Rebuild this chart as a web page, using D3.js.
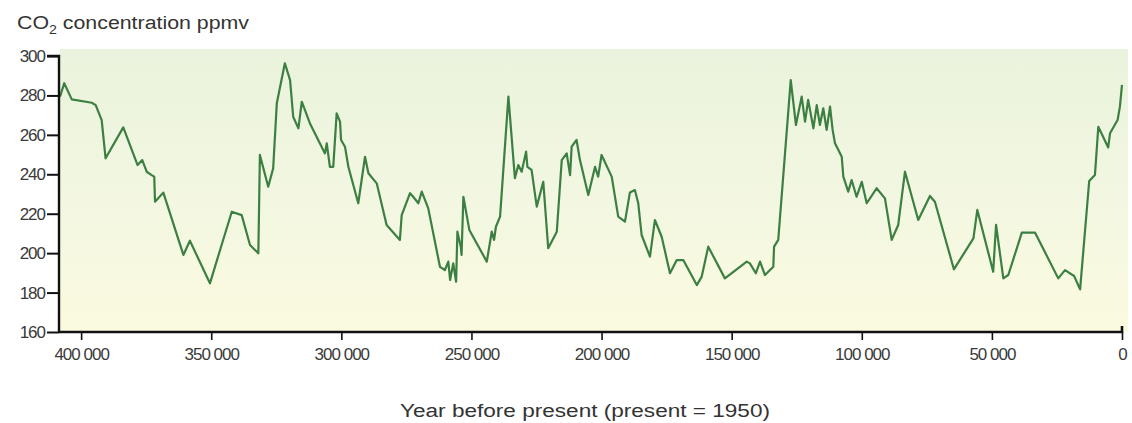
<!DOCTYPE html>
<html>
<head>
<meta charset="utf-8">
<script src="https://cdn.jsdelivr.net/npm/d3@7"></script>
<style>
  html, body { margin: 0; padding: 0; background: #ffffff; }
  svg { display: block; }
  text { font-family: "Liberation Sans", Arial, sans-serif; }
</style>
</head>
<body>
<svg id="chart" width="1132" height="423"></svg>
<script>
// Years before present (1950) and CO2 concentration (ppmv)
const years = [
  408100, 406500, 403600, 395900, 394400, 392100, 390600, 383800, 378300, 376500,
  374800, 372900, 371900, 371600, 368400, 360700, 358200, 350500, 346600, 342100,
  338300, 335100, 331900, 331300, 328100, 326200, 324800, 321700, 319700, 318500,
  316500, 315200, 312100, 306300, 305600, 304400, 303100, 301800, 300500, 300100,
  298600, 297300, 293500, 290900, 289600, 286400, 282600, 277500, 276800, 273600,
  272400, 270400, 269100, 266600, 262100, 260200, 258900, 258200, 257000, 255900,
  255400, 254100, 253800, 253100, 250800, 244100, 242200, 241300, 240600, 239000,
  235800, 233300, 232000, 230700, 229000, 228500, 226900, 224900, 222400, 220500,
  217200, 215300, 213400, 212100, 211500, 209600, 208300, 205100, 202500, 201300,
  200000, 196100, 193600, 191000, 189100, 187200, 185900, 184600, 181400, 179500,
  176900, 173700, 171100, 168600, 163400, 161500, 159000, 152600, 144200, 143000,
  140700, 139100, 137200, 134000, 133700, 132100, 127300, 125300, 123100, 121800,
  120600, 118600, 117300, 116100, 114800, 113500, 112200, 111200, 110300, 107700,
  107100, 105200, 103900, 102000, 100000, 98100, 94300, 91100, 88500, 86000,
  83400, 78300, 73800, 71900, 64600, 57100, 55600, 49500, 48400, 45600,
  43700, 38500, 33400, 24500, 21900, 18400, 16100, 12600, 10400, 9100,
  5300, 4600, 1700, 800, 0
];
const co2 = [
  279.4, 286.2, 278.0, 276.3, 275.1, 267.5, 248.1, 263.8, 244.7, 247.2,
  241.3, 239.6, 238.8, 226.1, 230.7, 199.1, 206.3, 184.7, 201.6, 221.0,
  219.3, 204.1, 199.9, 249.8, 233.7, 243.0, 276.0, 296.3, 287.8, 269.2,
  263.3, 276.8, 265.9, 250.6, 255.7, 243.8, 243.8, 270.9, 266.7, 257.4,
  254.0, 243.8, 225.3, 248.9, 240.5, 235.4, 214.3, 206.7, 219.3, 230.4,
  228.6, 225.3, 231.2, 222.7, 193.1, 191.4, 195.7, 186.4, 194.8, 185.5,
  210.9, 203.3, 199.1, 228.6, 211.7, 195.7, 210.9, 206.7, 213.4, 218.5,
  279.4, 238.0, 244.7, 241.3, 251.5, 243.8, 242.2, 223.6, 236.2, 202.5,
  210.9, 247.2, 250.6, 239.6, 254.0, 257.4, 247.2, 229.5, 243.8, 238.8,
  249.8, 238.8, 218.5, 216.0, 230.8, 232.0, 225.3, 209.2, 198.2, 216.8,
  208.3, 189.8, 196.5, 196.5, 183.8, 188.1, 203.3, 187.2, 195.7, 194.8,
  189.8, 195.7, 188.9, 193.1, 203.3, 206.7, 287.8, 265.0, 279.4, 266.7,
  277.7, 263.3, 275.1, 265.0, 273.5, 262.5, 274.3, 262.5, 255.7, 248.9,
  238.8, 231.2, 237.1, 228.6, 236.2, 225.3, 232.9, 227.8, 206.7, 214.3,
  241.3, 216.8, 229.0, 226.1, 191.8, 207.5, 221.9, 190.6, 214.3, 187.2,
  188.9, 210.4, 210.4, 187.2, 191.4, 188.4, 181.6, 236.6, 239.6, 264.1,
  253.6, 260.8, 267.5, 274.3, 285.3
];
const xTickValues = [400000, 350000, 300000, 250000, 200000, 150000, 100000, 50000, 0];
const xTickLabels = ["400 000", "350 000", "300 000", "250 000", "200 000", "150 000", "100 000", "50 000", "0"];
const yTickValues = [160, 180, 200, 220, 240, 260, 280, 300];
const titleText = "CO";
const titleSub = "2";
const titleRest = " concentration ppmv";
const xAxisTitle = "Year before present (present = 1950)";

const svg = d3.select("#chart");
const mLeft = 59, mRight = 1122, mTop = 56, mBottom = 332;

const x = d3.scaleLinear().domain([408500, 0]).range([mLeft, mRight]);
const y = d3.scaleLinear().domain([160, 300]).range([mBottom, mTop]);

// background gradient
const defs = svg.append("defs");
const grad = defs.append("linearGradient").attr("id", "bg").attr("x1", 0).attr("y1", 0).attr("x2", 0).attr("y2", 1);
grad.append("stop").attr("offset", "0%").attr("stop-color", "#eaf3dd");
grad.append("stop").attr("offset", "55%").attr("stop-color", "#f3f7e1");
grad.append("stop").attr("offset", "100%").attr("stop-color", "#fbfadf");
svg.append("rect")
  .attr("x", mLeft + 1).attr("y", 49)
  .attr("width", 1128 - mLeft - 1).attr("height", mBottom - 49)
  .attr("fill", "url(#bg)");

// line
const line = d3.line()
  .x((d, i) => x(years[i]))
  .y((d, i) => y(co2[i]));
svg.append("path")
  .datum(co2)
  .attr("d", line)
  .attr("fill", "none")
  .attr("stroke", "#3c7f42")
  .attr("stroke-width", 2.2)
  .attr("stroke-linejoin", "round");

// y axis
const yAxis = d3.axisLeft(y).tickValues(yTickValues).tickSize(12).tickPadding(2);
const gy = svg.append("g").attr("transform", `translate(${mLeft},0)`).call(yAxis);
gy.select(".domain").attr("stroke", "#111").attr("stroke-width", 2.4)
  .attr("d", `M-12,${mTop}H0V${mBottom}`);
gy.selectAll(".tick line").attr("stroke", "#111").attr("stroke-width", 2);
gy.selectAll(".tick text")
  .attr("font-size", 17).attr("fill", "#3a3a3a").attr("letter-spacing", -1)
  .attr("font-family", "Liberation Sans, Arial, sans-serif");

// x axis
const xAxis = d3.axisBottom(x).tickValues(xTickValues).tickSize(8).tickPadding(8)
  .tickFormat((d, i) => xTickLabels[i]);
const gx = svg.append("g").attr("transform", `translate(0,${mBottom})`).call(xAxis);
gx.select(".domain").attr("stroke", "#111").attr("stroke-width", 2.6)
  .attr("d", `M${mLeft},0H${mRight}V-6`);
gx.selectAll(".tick line").attr("stroke", "#111").attr("stroke-width", 1.6);
gx.selectAll(".tick text")
  .attr("font-size", 17).attr("fill", "#3a3a3a").attr("letter-spacing", -1)
  .attr("font-family", "Liberation Sans, Arial, sans-serif");

// title
const t = svg.append("text").attr("x", 17).attr("y", 29)
  .attr("font-size", 18).attr("fill", "#333")
  .attr("textLength", 232).attr("lengthAdjust", "spacingAndGlyphs");
t.append("tspan").text(titleText);
t.append("tspan").attr("font-size", 12).attr("dy", 5).text(titleSub);
t.append("tspan").attr("dy", -5).text(titleRest);

// x axis title
svg.append("text").attr("x", 585).attr("y", 417)
  .attr("text-anchor", "middle")
  .attr("font-size", 18).attr("fill", "#333")
  .attr("textLength", 370).attr("lengthAdjust", "spacingAndGlyphs")
  .text(xAxisTitle);
</script>
</body>
</html>
